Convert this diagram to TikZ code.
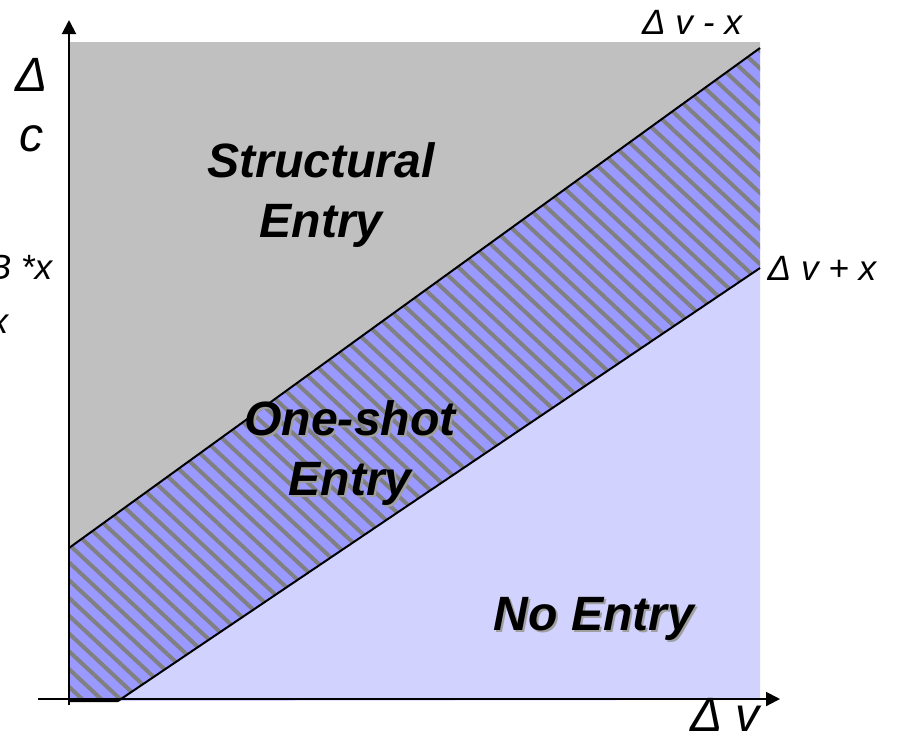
\documentclass[tikz,border=0pt]{standalone}
\usepackage{fontspec}
\setmainfont{Liberation Sans}
\usetikzlibrary{arrows.meta,patterns.meta,positioning}
\definecolor{regionGray}{RGB}{192,192,192}
\definecolor{stripeBlue}{RGB}{153,153,255}
\definecolor{stripeGray}{RGB}{128,128,128}
\definecolor{paleBlue}{RGB}{210,210,255}
\begin{document}
\begin{tikzpicture}[x=0.01cm, y=0.01cm,
    axis/.style={line width=0.02cm, -{Triangle[length=0.14cm, width=0.14cm]}},
    border/.style={line width=0.02cm, line join=round},
    region/.style={font=\fontsize{13.7}{17}\selectfont\bfseries\itshape, align=center, inner sep=0pt},
    shade/.style={region, text=gray!75},
    axislabel/.style={font=\fontsize{13.7}{17}\selectfont\itshape, align=center, inner sep=0pt},
    linelabel/.style={font=\fontsize{10}{12}\selectfont\itshape, inner sep=0pt}
]
\useasboundingbox (0,0) rectangle (907,747);

% Corner points of the regions
\coordinate (lowLeft) at (69,46);
\coordinate (upStart) at (69,199);
\coordinate (upEnd) at (760,699);
\coordinate (loStart) at (118,46);
\coordinate (loEnd) at (760,479);
\coordinate (topLeft) at (69,705);
\coordinate (topRight) at (760,705);
\coordinate (botRight) at (760,47);

% Regions
\fill[regionGray] (upStart) -- (topLeft) -- (topRight) -- (upEnd) -- cycle;
\fill[stripeBlue] (lowLeft) -- (upStart) -- (upEnd) -- (loEnd) -- (loStart) -- cycle;
\fill[pattern={Lines[angle=-43, distance=0.13cm, line width=0.04cm]}, pattern color=stripeGray]
    (lowLeft) -- (upStart) -- (upEnd) -- (loEnd) -- (loStart) -- cycle;
\fill[paleBlue] (loStart) -- (loEnd) -- (botRight) -- cycle;

% Boundaries
\draw[border] (upStart) -- (upEnd);
\draw[border] (lowLeft) -- (loStart) -- (loEnd);

% Axes
\coordinate (xStart) at (38,48);
\coordinate (xEnd) at (780,48);
\coordinate (yStart) at (69,42);
\coordinate (yEnd) at (69,727);
\draw[axis] (xStart) -- (xEnd);
\draw[axis] (yStart) -- (yEnd);

% Axis and line labels
\node[axislabel] (cLabel) at (32,642) {Δ\\c};
\node[axislabel] (vLabel) at (725,32) {Δ v};
\node[linelabel] (minusLabel) at (692,725) {Δ v - x};
\node[linelabel] (plusLabel) at (822,479) {Δ v + x};
\node[linelabel, anchor=east] (bLabel) at (53,480) {B *x};
\node[linelabel, anchor=east] (xLabel) at (9,423) {x};

% Region names
\node[region] (structural) at (321,552) {Structural\\Entry};
\node[shade] (oneShotShade) at (352,292) {One-shot\\Entry};
\node[region] (oneShot) at (350,294) {One-shot\\Entry};
\node[shade] (noEntryShade) at (596,126) {No Entry};
\node[region] (noEntry) at (594,128) {No Entry};

\end{tikzpicture}
\end{document}
